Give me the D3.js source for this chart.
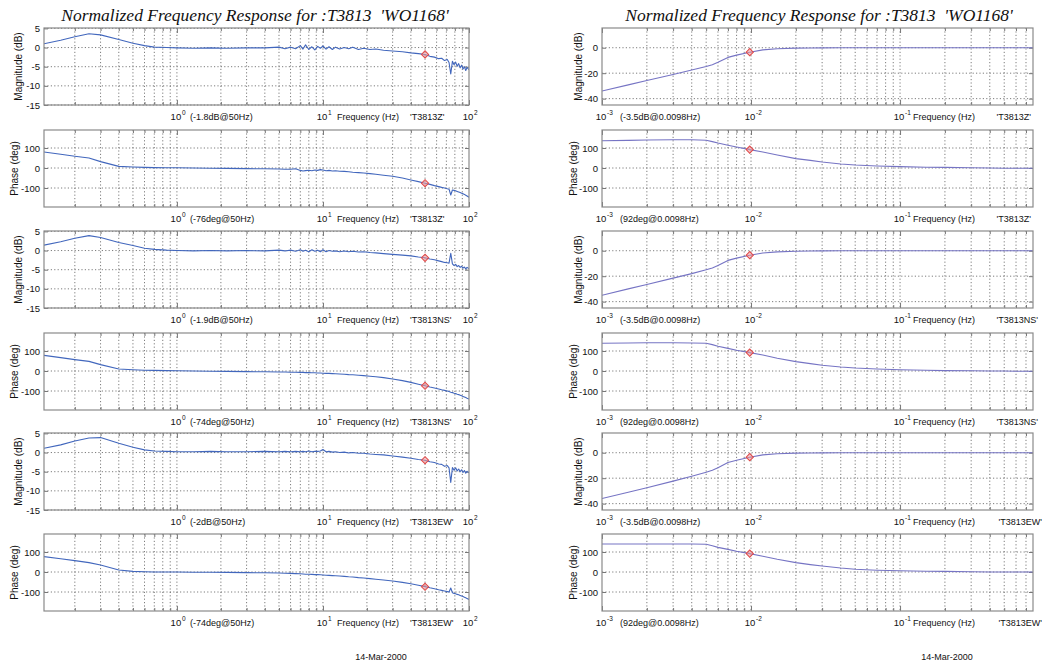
<!DOCTYPE html>
<html><head><meta charset="utf-8">
<script src="https://cdn.jsdelivr.net/npm/d3@7"></script>
<style>
body{margin:0;background:#fff}
svg{display:block}
text{font-family:"Liberation Sans",Arial,sans-serif;fill:#111}
.title{font-family:"Liberation Serif","Times New Roman",serif;font-style:italic;white-space:pre}
</style>
</head><body>
<svg id="c" width="1042" height="663"></svg>
<script>
// ---------- DATA ----------
const leftFreq = [0.123,0.16,0.2,0.25,0.3,0.4,0.5,0.6,0.7,0.85,
  1,1.3,1.7,2.2,3,4,5,5.5,6,6.5,
  7,7.3,7.6,8,8.4,8.8,9.2,9.6,10,10.5,
  11,11.6,12.2,13,14,15,16,17.5,19,21,
  23,26,30,35,40,45,50,54,58,62,
  65,68,71,73,75,77,79,81,83,85,
  87,89,91,93,95,97,100];
const magZ = [1.0,1.9,2.8,3.6,3.3,2.1,1.1,0.5,0.1,0.0,
  -0.1,-0.2,-0.1,-0.2,-0.1,-0.1,0.1,-0.3,0.1,-0.3,
  0.5,-0.4,0.7,-0.5,0.2,-0.6,0.3,-0.2,0.4,-0.4,
  0.2,-0.5,0.1,-0.4,0.0,-0.3,0.1,-0.5,-0.2,-0.5,
  -0.4,-0.7,-0.9,-1.1,-1.4,-1.6,-1.8,-2.3,-2.5,-2.9,
  -2.8,-3.4,-3.1,-3.9,-6.9,-3.6,-4.5,-3.8,-4.9,-4.2,
  -5.3,-4.6,-5.6,-5.0,-6.0,-5.2,-5.8];
const phaseZ = [80,69,59,50,32,8,5,3,2,1,
  1,0,-1,-2,-3,-4,-5,-6,-6,-4,
  -12,-15,-13,-11,-14,-10,-12,-8,-10,-14,
  -12,-15,-14,-16,-17,-19,-21,-23,-25,-28,
  -31,-36,-41,-50,-60,-68,-76,-82,-88,-93,
  -97,-100,-104,-106,-135,-110,-112,-114,-117,-120,
  -123,-126,-129,-132,-136,-140,-146];
const magNS = [1.4,2.3,3.2,3.9,3.4,2.1,1.3,0.6,0.3,0.1,
  0.0,-0.1,0.0,-0.1,0.0,-0.1,0.1,-0.1,0.1,-0.2,
  0.2,-0.2,0.1,-0.3,0.2,-0.2,0.1,-0.3,0.2,-0.3,
  0.0,-0.2,-0.1,-0.3,-0.1,-0.3,-0.2,-0.4,-0.3,-0.5,
  -0.6,-0.8,-1.0,-1.2,-1.4,-1.7,-1.9,-2.2,-2.4,-2.7,
  -2.9,-3.1,-3.2,-3.3,-0.7,-3.5,-3.9,-3.6,-4.2,-3.9,
  -4.4,-4.1,-4.6,-4.3,-4.8,-4.4,-4.7];
const phaseNS = [78,67,57,48,32,10,6,4,3,2,
  1,0,-1,-2,-3,-4,-5,-5,-6,-6,
  -7,-7,-8,-8,-9,-9,-10,-10,-11,-12,
  -12,-13,-14,-15,-16,-18,-19,-21,-23,-26,
  -29,-33,-40,-48,-57,-66,-74,-80,-85,-90,
  -94,-97,-100,-103,-106,-108,-111,-113,-116,-118,
  -121,-124,-127,-130,-133,-136,-140];
const magEW = [1.1,2.0,3.0,3.8,3.9,2.4,1.4,0.7,0.4,0.3,
  0.2,0.2,0.3,0.2,0.2,0.3,0.2,0.3,0.2,0.3,
  0.2,0.3,0.2,0.4,0.2,0.3,0.3,0.4,0.8,0.2,
  0.3,0.1,0.2,0.0,0.1,-0.1,0.0,-0.2,-0.2,-0.4,
  -0.5,-0.6,-0.9,-1.2,-1.5,-1.8,-2.0,-2.4,-2.6,-3.0,
  -3.1,-3.6,-3.4,-4.0,-7.8,-3.9,-4.6,-4.0,-4.8,-4.3,
  -5.0,-4.5,-5.2,-4.7,-5.4,-4.9,-5.3];
const phaseEW = [77,66,57,47,35,10,3,1,0,0,
  0,-1,-1,-2,-3,-4,-5,-6,-7,-8,
  -9,-10,-11,-11,-12,-13,-13,-14,-15,-16,
  -17,-18,-19,-20,-22,-24,-25,-28,-30,-33,
  -36,-40,-45,-52,-59,-66,-73,-79,-84,-89,
  -92,-95,-98,-100,-80,-104,-107,-109,-112,-114,
  -117,-120,-123,-126,-129,-133,-137];

const rightFreq = [0.001,0.0015,0.002,0.003,0.004,0.005,0.0055,0.006,0.007,0.008,
  0.0098,0.012,0.015,0.02,0.025,0.03,0.04,0.05,0.07,0.1,
  0.15,0.2,0.3,0.4,0.5,0.6,0.78];
const rMagZ = [-34,-29.2,-25.8,-21.0,-17.5,-14.8,-13.3,-11.5,-7.6,-5.8,
  -3.5,-1.7,-0.8,-0.3,-0.2,-0.1,0,0,0,0,0,0,0,0,0,0,0];
const rMagNS = [-35,-30,-26.5,-21.5,-18,-15,-13.5,-11.6,-7.6,-5.8,
  -3.5,-1.8,-0.9,-0.4,-0.2,-0.1,0,0,0,0,0,0,0,0,0,0,0];
const rMagEW = [-36,-31,-27.5,-22.3,-18.5,-15.3,-13.7,-11.8,-7.7,-5.9,
  -3.5,-1.7,-0.8,-0.3,-0.2,-0.1,0,0,0,0,0,0,0,0,0,0,0];
const rPhaseZ = [136,138,140,141,141,139,132,125,114,105,
  92,80,65,47,38,30,20,15,10,7,4,3,1,0,-1,-1,-1];
const rPhaseNS = [139,140,141,141,140,139,132,124,113,104,
  92,80,64,47,37,29,20,15,10,6,4,2,1,0,0,-1,-1];
const rPhaseEW = [140,140,140,140,140,139,131,123,113,104,
  92,79,64,47,37,30,20,14,9,6,4,3,1,0,0,0,0];

const stations = ["'T3813Z'", "'T3813NS'", "'T3813EW'"];
const leftMagNotes = ["(-1.8dB@50Hz)", "(-1.9dB@50Hz)", "(-2dB@50Hz)"];
const leftPhaseNotes = ["(-76deg@50Hz)", "(-74deg@50Hz)", "(-74deg@50Hz)"];
const rightMagNotes = ["(-3.5dB@0.0098Hz)", "(-3.5dB@0.0098Hz)", "(-3.5dB@0.0098Hz)"];
const rightPhaseNotes = ["(92deg@0.0098Hz)", "(92deg@0.0098Hz)", "(92deg@0.0098Hz)"];
const leftMarkerFreq = 50;
const leftMarkerMag = [-1.8, -1.9, -2.0];
const leftMarkerPhase = [-76, -74, -74];
const rightMarkerFreq = 0.0098;
const rightMarkerMag = [-3.5, -3.5, -3.5];
const rightMarkerPhase = [92, 92, 92];
const leftMagTicks = [5, 0, -5, -10, -15];
const rightMagTicks = [0, -20, -40];
const phaseTicks = [100, 0, -100];
const titleText = "Normalized Frequency Response for :T3813  'WO1168'";
const dateText = "14-Mar-2000";
const magLabel = "Magnitude (dB)";
const phaseLabel = "Phase (deg)";
const freqLabel = "Frequency (Hz)";

// ---------- DRAW ----------
const svg = d3.select("#c");
const tops = [28, 130, 231, 333, 433, 534];
const H = 77;
const FS = 9;
let clipId = 0;

function panel(o) {
  const x = d3.scaleLog().domain(o.xDomain).range([o.x0, o.x1]);
  const y = d3.scaleLinear().domain(o.yDomain).range([o.top + H, o.top]);
  const g = svg.append("g");
  const bottom = o.top + H;
  const allTicks = x.ticks();
  const decTicks = allTicks.filter(t => Math.abs(Math.log10(t) - Math.round(Math.log10(t))) < 1e-6);
  const minorTicks = allTicks.filter(t => !decTicks.includes(t));
  // grid
  g.append("g").selectAll("line").data(allTicks.filter(t => x(t) > o.x0 + 0.5 && x(t) < o.x1 - 0.5)).join("line")
    .attr("x1", d => x(d)).attr("x2", d => x(d)).attr("y1", o.top).attr("y2", bottom)
    .attr("stroke", "#5c5c5c").attr("stroke-width", 0.8).attr("stroke-dasharray", "1.2,2.2");
  g.append("g").selectAll("line").data(o.yTicks).join("line")
    .attr("x1", o.x0).attr("x2", o.x1).attr("y1", d => y(d)).attr("y2", d => y(d))
    .attr("stroke", "#5c5c5c").attr("stroke-width", 0.8).attr("stroke-dasharray", "1.2,2.2");
  // axes ticks (inside)
  const mk = (axis, vals, size, tr) => {
    const a = g.append("g").attr("transform", tr).call(axis.tickValues(vals).tickSizeInner(size).tickSizeOuter(0).tickFormat(""));
    a.select(".domain").remove();
    a.selectAll("line").attr("stroke", "#777");
  };
  mk(d3.axisBottom(x), decTicks, -5, `translate(0,${bottom})`);
  mk(d3.axisBottom(x), minorTicks, -3, `translate(0,${bottom})`);
  mk(d3.axisTop(x), decTicks, -5, `translate(0,${o.top})`);
  mk(d3.axisTop(x), minorTicks, -3, `translate(0,${o.top})`);
  mk(d3.axisRight(y), o.yTicks, -4, `translate(${o.x1},0)`);
  // y axis with labels
  const ya = g.append("g").attr("transform", `translate(${o.x0},0)`)
    .call(d3.axisLeft(y).tickValues(o.yTicks).tickSizeInner(-4).tickSizeOuter(0).tickPadding(4).tickFormat(d => String(d)));
  ya.select(".domain").remove();
  ya.selectAll("line").attr("stroke", "#777");
  ya.selectAll("text").attr("font-size", 9.5).attr("fill", "#111").attr("font-family", "Liberation Sans, Arial, sans-serif");
  // curve
  const cid = "clip" + (clipId++);
  svg.append("clipPath").attr("id", cid).append("rect").attr("x", o.x0).attr("y", o.top).attr("width", o.x1 - o.x0).attr("height", H);
  const pts = o.freq.map((f, i) => [f, o.vals[i]]);
  g.append("path").datum(pts).attr("clip-path", `url(#${cid})`)
    .attr("d", d3.line().x(d => x(d[0])).y(d => y(d[1])))
    .attr("fill", "none").attr("stroke", o.color).attr("stroke-width", 1.1).attr("stroke-linejoin", "round");
  // marker (square diamond)
  g.append("path").attr("d", d3.symbol(d3.symbolSquare, 26)())
    .attr("transform", `translate(${x(o.mFreq)},${y(o.mVal)}) rotate(45)`)
    .attr("fill", "rgba(240,150,150,0.55)").attr("stroke", "#e04848").attr("stroke-width", 1);
  // box
  g.append("rect").attr("x", o.x0).attr("y", o.top).attr("width", o.x1 - o.x0).attr("height", H)
    .attr("fill", "none").attr("stroke", "#8a8a8a").attr("stroke-width", 1.2);
  // x tick labels (10^n)
  const lb = bottom + 15;
  decTicks.forEach(t => {
    if (x(t) < o.x0 - 1 || x(t) > o.x1 + 1) return;
    const e = Math.round(Math.log10(t));
    g.append("text").attr("x", x(t) - 1).attr("y", lb).attr("text-anchor", "middle").attr("font-size", FS + 0.5).text("10");
    g.append("text").attr("x", x(t) + 5).attr("y", lb - 5).attr("font-size", 6.5).text(String(e));
  });
  g.append("text").attr("x", o.noteX).attr("y", lb).attr("font-size", FS).text(o.note);
  g.append("text").attr("x", o.freqX).attr("y", lb).attr("font-size", FS).text(freqLabel);
  g.append("text").attr("x", o.stationX).attr("y", lb).attr("text-anchor", o.stationAnchor).attr("font-size", FS).text(o.station);
  // y label
  g.append("text").attr("transform", `translate(${o.ylabelX},${o.top + H / 2}) rotate(-90)`)
    .attr("text-anchor", "middle").attr("dominant-baseline", "central").attr("font-size", 10).text(o.ylabel);
}

const leftSeries = [[magZ, phaseZ], [magNS, phaseNS], [magEW, phaseEW]];
const rightSeries = [[rMagZ, rPhaseZ], [rMagNS, rPhaseNS], [rMagEW, rPhaseEW]];
const rightStationEnd = [1031, 1038, 1042];

for (let k = 0; k < 3; k++) {
  panel({x0: 44, x1: 469, top: tops[2*k], xDomain: [0.123, 100], yDomain: [-15, 5.1],
    freq: leftFreq, vals: leftSeries[k][0], yTicks: leftMagTicks, ylabel: magLabel, ylabelX: 18,
    color: "#4267bd", mFreq: leftMarkerFreq, mVal: leftMarkerMag[k],
    note: leftMagNotes[k], noteX: 190, freqX: 337, station: stations[k], stationX: 410, stationAnchor: "start"});
  panel({x0: 44, x1: 469, top: tops[2*k+1], xDomain: [0.123, 100], yDomain: [-195, 190],
    freq: leftFreq, vals: leftSeries[k][1], yTicks: phaseTicks, ylabel: phaseLabel, ylabelX: 14,
    color: "#4267bd", mFreq: leftMarkerFreq, mVal: leftMarkerPhase[k],
    note: leftPhaseNotes[k], noteX: 190, freqX: 337, station: stations[k], stationX: 410, stationAnchor: "start"});
  panel({x0: 602, x1: 1033, top: tops[2*k], xDomain: [0.001, 0.78], yDomain: [-45, 15.5],
    freq: rightFreq, vals: rightSeries[k][0], yTicks: rightMagTicks, ylabel: magLabel, ylabelX: 578,
    color: "#7674c4", mFreq: rightMarkerFreq, mVal: rightMarkerMag[k],
    note: rightMagNotes[k], noteX: 620, freqX: 913, station: stations[k], stationX: rightStationEnd[k], stationAnchor: "end"});
  panel({x0: 602, x1: 1033, top: tops[2*k+1], xDomain: [0.001, 0.78], yDomain: [-195, 190],
    freq: rightFreq, vals: rightSeries[k][1], yTicks: phaseTicks, ylabel: phaseLabel, ylabelX: 573,
    color: "#7674c4", mFreq: rightMarkerFreq, mVal: rightMarkerPhase[k],
    note: rightPhaseNotes[k], noteX: 620, freqX: 913, station: stations[k], stationX: rightStationEnd[k], stationAnchor: "end"});
}

// titles and dates
[255, 819].forEach(cx => {
  svg.append("text").attr("class", "title").attr("x", cx).attr("y", 21).attr("text-anchor", "middle")
    .attr("font-size", 17.5).attr("fill", "#222").text(titleText);
});
[381, 947].forEach(cx => {
  svg.append("text").attr("x", cx).attr("y", 660).attr("text-anchor", "middle").attr("font-size", FS).text(dateText);
});
</script>
</body></html>
